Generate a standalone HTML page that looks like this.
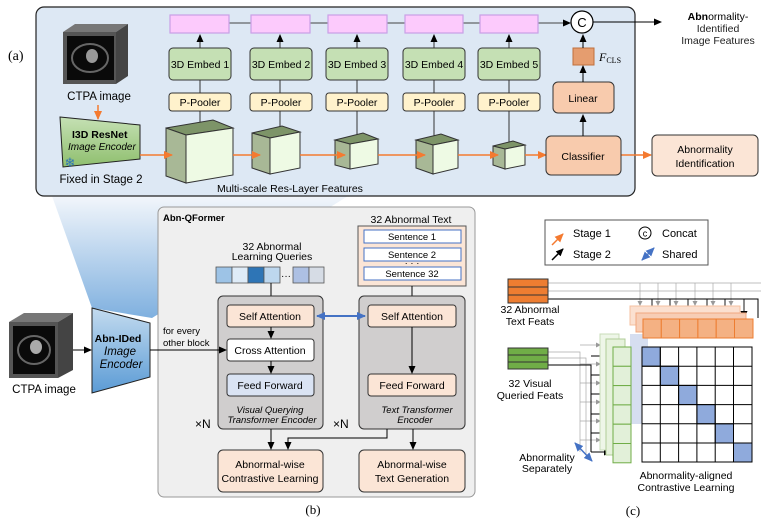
<!DOCTYPE html>
<html><head><meta charset="utf-8"><style>
html,body{margin:0;padding:0;background:#fff}
svg{display:block;font-family:"Liberation Sans","DejaVu Sans",sans-serif}
</style></head><body>
<svg width="761" height="526" viewBox="0 0 761 526" xmlns="http://www.w3.org/2000/svg">
<defs>
<marker id="ak" markerWidth="8" markerHeight="8" refX="7" refY="4" orient="auto" markerUnits="userSpaceOnUse"><path d="M0,0.5 L8,4 L0,7.5z" fill="#000"/></marker>
<marker id="ao" markerWidth="9" markerHeight="9" refX="8" refY="4.5" orient="auto" markerUnits="userSpaceOnUse"><path d="M0,0.5 L9,4.5 L0,8.5z" fill="#f47a30"/></marker>
<marker id="ab" markerWidth="9" markerHeight="9" refX="8" refY="4.5" orient="auto-start-reverse" markerUnits="userSpaceOnUse"><path d="M0,0.5 L9,4.5 L0,8.5z" fill="#4472c4"/></marker>
<marker id="ag" markerWidth="5" markerHeight="5" refX="4" refY="2.5" orient="auto" markerUnits="userSpaceOnUse"><path d="M0,0 L5,2.5 L0,5z" fill="#999"/></marker>
<linearGradient id="fun" x1="0" y1="0" x2="0" y2="1"><stop offset="0" stop-color="#f2f6fb"/><stop offset="1" stop-color="#7fb0df"/></linearGradient>
<linearGradient id="enc" x1="0" y1="0" x2="0" y2="1"><stop offset="0" stop-color="#c3dbef"/><stop offset="1" stop-color="#5b9bd5"/></linearGradient>
<linearGradient id="genc" x1="0" y1="0" x2="0" y2="1"><stop offset="0" stop-color="#c5e0b4"/><stop offset="1" stop-color="#8fbf6e"/></linearGradient>
</defs>

<polygon points="52,196 348,196 152,318 92,308" fill="url(#fun)"/>

<rect x="36" y="7" width="599" height="189" rx="8" fill="#dde8f4" stroke="#222" stroke-width="1.2"/>
<text x="8" y="60" font-family="Liberation Serif,serif" font-size="14">(a)</text>

<polygon points="63,32 75,24 128,24 116,32" fill="#777"/>
<polygon points="116,32 128,24 128,76 116,84" fill="#444"/>
<rect x="63" y="32" width="53" height="52" fill="#555"/>
<rect x="67" y="36" width="47" height="44" fill="#0a0a0a"/>
<ellipse cx="90" cy="58" rx="18" ry="14" fill="none" stroke="#666" stroke-width="2"/>
<ellipse cx="92" cy="56" rx="6" ry="7" fill="#999"/>
<text x="99" y="100" font-size="11.5" text-anchor="middle">CTPA image</text>
<line x1="98" y1="105" x2="98" y2="119" stroke="#f47a30" stroke-width="1.5" marker-end="url(#ao)"/>
<polygon points="60,117 140,125 140,159 63,167" fill="url(#genc)" stroke="#222"/>
<text x="72" y="138" font-size="10.5" font-weight="bold">I3D ResNet</text>
<text x="68" y="150" font-size="10" font-style="italic">Image Encoder</text>
<text x="70" y="167" font-size="13" fill="#2e75b6" text-anchor="middle">❄</text>
<text x="101" y="183" font-size="11.5" text-anchor="middle">Fixed in Stage 2</text>

<line x1="229" y1="23" x2="570" y2="23" stroke="#444" stroke-width="1" marker-end="url(#ak)"/>
<g fill="#fccafc" stroke="#c9a0e6" stroke-width="1.2">
<rect x="170" y="15" width="59" height="18"/><rect x="251" y="15" width="59" height="18"/><rect x="328" y="15" width="59" height="18"/><rect x="405" y="15" width="58" height="18"/><rect x="480" y="15" width="58" height="18"/>
</g>
<circle cx="582" cy="22" r="11" fill="#fff" stroke="#000" stroke-width="1.2"/>
<text x="582" y="27" font-size="13" text-anchor="middle">C</text>
<line x1="593" y1="22" x2="661" y2="22" stroke="#000" marker-end="url(#ak)"/>
<text x="718" y="20" font-size="10.5" text-anchor="middle"><tspan font-weight="bold">Abn</tspan>ormality-</text>
<text x="718" y="32" font-size="10.5" text-anchor="middle" fill="#222">Identified</text>
<text x="718" y="44" font-size="10.5" text-anchor="middle" fill="#222">Image Features</text>

<g stroke="#333" stroke-width="1">
<line x1="200" y1="122" x2="200" y2="35" marker-end="url(#ak)"/>
<line x1="280" y1="128" x2="280" y2="35" marker-end="url(#ak)"/>
<line x1="357" y1="135" x2="357" y2="35" marker-end="url(#ak)"/>
<line x1="434" y1="136" x2="434" y2="35" marker-end="url(#ak)"/>
<line x1="509" y1="142" x2="509" y2="35" marker-end="url(#ak)"/>
</g>
<g fill="#c5e0b4" stroke="#333" stroke-width="1">
<rect x="169" y="48" width="62" height="32" rx="4"/><rect x="250" y="48" width="62" height="32" rx="4"/><rect x="326" y="48" width="62" height="32" rx="4"/><rect x="403" y="48" width="62" height="32" rx="4"/><rect x="478" y="48" width="62" height="32" rx="4"/>
</g>
<g fill="#fff2cc" stroke="#333" stroke-width="1">
<rect x="169" y="93" width="62" height="18" rx="3"/><rect x="250" y="93" width="62" height="18" rx="3"/><rect x="326" y="93" width="62" height="18" rx="3"/><rect x="403" y="93" width="62" height="18" rx="3"/><rect x="478" y="93" width="62" height="18" rx="3"/>
</g>
<g font-size="10.5" text-anchor="middle">
<text x="200" y="68">3D Embed 1</text><text x="281" y="68">3D Embed 2</text><text x="357" y="68">3D Embed 3</text><text x="434" y="68">3D Embed 4</text><text x="509" y="68">3D Embed 5</text>
<text x="200" y="106">P-Pooler</text><text x="281" y="106">P-Pooler</text><text x="357" y="106">P-Pooler</text><text x="434" y="106">P-Pooler</text><text x="509" y="106">P-Pooler</text>
</g>

<g stroke="#333" stroke-width="1">
<polygon points="166,128 213,120 233,128 186,135" fill="#7d9468"/>
<polygon points="166,128 186,135 186,183 166,176" fill="#a8b896"/>
<polygon points="186,135 233,128 233,175 186,183" fill="#eefae4"/>

<polygon points="252,133 282,126 300,132 270,138" fill="#7d9468"/>
<polygon points="252,133 270,138 270,174 252,168" fill="#a8b896"/>
<polygon points="270,138 300,132 300,168 270,174" fill="#eefae4"/>

<polygon points="335,140 363,133 378,139 350,144" fill="#7d9468"/>
<polygon points="335,140 350,144 350,169 335,165" fill="#a8b896"/>
<polygon points="350,144 378,139 378,164 350,169" fill="#eefae4"/>

<polygon points="416,140 441,134 458,140 433,145" fill="#7d9468"/>
<polygon points="416,140 433,145 433,174 416,168" fill="#a8b896"/>
<polygon points="433,145 458,140 458,168 433,174" fill="#eefae4"/>

<polygon points="493,146 513,141 525,145 505,149" fill="#7d9468"/>
<polygon points="493,146 505,149 505,169 493,165" fill="#a8b896"/>
<polygon points="505,149 525,145 525,165 505,169" fill="#eefae4"/>
</g>
<g stroke="#f47a30" stroke-width="1.5">
<line x1="140" y1="155" x2="172" y2="155" marker-end="url(#ao)"/>
<line x1="233" y1="155" x2="260" y2="155" marker-end="url(#ao)"/>
<line x1="300" y1="155" x2="345" y2="155" marker-end="url(#ao)"/>
<line x1="378" y1="155" x2="425" y2="155" marker-end="url(#ao)"/>
<line x1="458" y1="155" x2="498" y2="155" marker-end="url(#ao)"/>
<line x1="525" y1="155" x2="546" y2="155" marker-end="url(#ao)"/>
<line x1="621" y1="155" x2="651" y2="155" marker-end="url(#ao)"/>
</g>
<text x="290" y="192" font-size="10.5" text-anchor="middle">Multi-scale Res-Layer Features</text>

<rect x="546" y="136" width="75" height="39" rx="5" fill="#f8cbad" stroke="#333"/>
<text x="583" y="160" font-size="10.5" text-anchor="middle">Classifier</text>
<line x1="583" y1="136" x2="583" y2="115" stroke="#000" marker-end="url(#ak)"/>
<rect x="553" y="82" width="61" height="31" rx="5" fill="#f8cbad" stroke="#333"/>
<text x="583" y="102" font-size="10.5" text-anchor="middle">Linear</text>
<line x1="583" y1="82" x2="583" y2="66" stroke="#000" marker-end="url(#ak)"/>
<rect x="573" y="48" width="21" height="17" fill="#e59d6f" stroke="#c0703c"/>
<text x="599" y="61" font-family="Liberation Serif,serif" font-size="12" font-style="italic">F<tspan font-size="8" font-style="normal" dy="2">CLS</tspan></text>
<line x1="583" y1="48" x2="583" y2="35" stroke="#000" marker-end="url(#ak)"/>
<rect x="652" y="135" width="106" height="41" rx="5" fill="#fbe5d6" stroke="#333"/>
<text x="705" y="153" font-size="10.5" text-anchor="middle">Abnormality</text>
<text x="705" y="167" font-size="10.5" text-anchor="middle">Identification</text>

<polygon points="9,322 24,313 73,313 58,322" fill="#777"/>
<polygon points="58,322 73,313 73,370 58,378" fill="#444"/>
<rect x="9" y="322" width="49" height="56" fill="#555"/>
<rect x="13" y="326" width="42" height="48" fill="#0a0a0a"/>
<ellipse cx="34" cy="350" rx="16" ry="14" fill="none" stroke="#666" stroke-width="2"/>
<ellipse cx="36" cy="347" rx="6" ry="7" fill="#aaa"/>
<text x="44" y="393" font-size="11.5" text-anchor="middle">CTPA image</text>
<line x1="73" y1="350" x2="91" y2="350" stroke="#000" marker-end="url(#ak)"/>
<polygon points="92,308 150,323 150,377 92,393" fill="url(#enc)" stroke="#222"/>
<text x="118" y="342" font-size="10.5" text-anchor="middle" font-weight="bold">Abn-IDed</text>
<text x="120" y="355" font-size="11.5" text-anchor="middle" font-style="italic">Image</text>
<text x="121" y="368" font-size="11.5" text-anchor="middle" font-style="italic">Encoder</text>

<rect x="158" y="207" width="317" height="290" rx="6" fill="#efefef" stroke="#999"/>
<line x1="150" y1="350" x2="226" y2="350" stroke="#000" marker-end="url(#ak)"/>
<text x="163" y="334" font-size="9.5">for every</text>
<text x="163" y="346" font-size="9.5">other block</text>
<text x="163" y="221" font-size="9.5" font-weight="bold">Abn-QFormer</text>
<text x="411" y="223" font-size="10.5" text-anchor="middle">32 Abnormal Text</text>
<rect x="358" y="226" width="108" height="60" fill="#fbe5d6" stroke="#555"/>
<g fill="#fff" stroke="#4472c4" stroke-width="1"><rect x="364" y="230" width="97" height="13"/><rect x="364" y="248" width="97" height="13"/><rect x="364" y="267" width="97" height="13"/></g>
<g font-size="9.5" text-anchor="middle"><text x="412" y="240">Sentence 1</text><text x="412" y="258">Sentence 2</text><text x="412" y="277">Sentence 32</text><text x="412" y="266">· · ·</text></g>
<text x="272" y="250" font-size="10.5" text-anchor="middle">32 Abnormal</text>
<text x="272" y="260" font-size="10.5" text-anchor="middle">Learning Queries</text>
<g stroke="#555" stroke-width="0.8">
<rect x="216" y="267" width="16" height="16" fill="#9dc3e6"/><rect x="232" y="267" width="16" height="16" fill="#deebf7"/><rect x="248" y="267" width="16" height="16" fill="#2e75b6"/><rect x="264" y="267" width="16" height="16" fill="#bdd7ee"/><rect x="293" y="267" width="16" height="16" fill="#adc0e3"/><rect x="309" y="267" width="15" height="16" fill="#d6dce5"/>
</g>
<text x="286" y="279" font-size="10" text-anchor="middle">···</text>
<line x1="271" y1="283" x2="271" y2="304" stroke="#000" marker-end="url(#ak)"/>
<line x1="412" y1="286" x2="412" y2="304" stroke="#000" marker-end="url(#ak)"/>
<rect x="218" y="296" width="105" height="133" rx="5" fill="#d0cece" stroke="#333"/>
<rect x="359" y="296" width="106" height="133" rx="5" fill="#d0cece" stroke="#333"/>
<line x1="150" y1="350" x2="226" y2="350" stroke="#000" marker-end="url(#ak)"/>
<rect x="227" y="305" width="87" height="22" rx="3" fill="#fbe5d6" stroke="#333"/>
<rect x="227" y="339" width="87" height="22" rx="3" fill="#fff" stroke="#333"/>
<rect x="227" y="374" width="87" height="22" rx="3" fill="#dae3f3" stroke="#333"/>
<rect x="368" y="305" width="88" height="22" rx="3" fill="#fbe5d6" stroke="#333"/>
<rect x="368" y="374" width="88" height="22" rx="3" fill="#fbe5d6" stroke="#333"/>
<line x1="271" y1="327" x2="271" y2="338" stroke="#000" marker-end="url(#ak)"/>
<line x1="271" y1="361" x2="271" y2="373" stroke="#000" marker-end="url(#ak)"/>
<line x1="412" y1="327" x2="412" y2="373" stroke="#000" marker-end="url(#ak)"/>
<line x1="317" y1="316" x2="365" y2="316" stroke="#4472c4" stroke-width="2" marker-start="url(#ab)" marker-end="url(#ab)"/>
<g font-size="10.5" text-anchor="middle">
<text x="270" y="320">Self Attention</text><text x="270" y="354">Cross Attention</text><text x="270" y="389">Feed Forward</text>
<text x="412" y="320">Self Attention</text><text x="412" y="389">Feed Forward</text>
</g>
<g font-size="9.5" text-anchor="middle" font-style="italic">
<text x="270" y="413">Visual Querying</text><text x="272" y="423">Transformer Encoder</text>
<text x="417" y="413">Text Transformer</text><text x="415" y="423">Encoder</text>
</g>
<text x="195" y="428" font-size="12">×N</text>
<text x="333" y="428" font-size="12">×N</text>
<line x1="271" y1="429" x2="271" y2="449" stroke="#000" marker-end="url(#ak)"/>
<polyline points="387,429 387,438 288,438 288,449" fill="none" stroke="#000" marker-end="url(#ak)"/>
<line x1="413" y1="429" x2="413" y2="449" stroke="#000" marker-end="url(#ak)"/>
<rect x="218" y="450" width="105" height="42" rx="5" fill="#fbe5d6" stroke="#333"/>
<rect x="359" y="450" width="106" height="42" rx="5" fill="#fbe5d6" stroke="#333"/>
<g font-size="10.5" text-anchor="middle">
<text x="270" y="468">Abnormal-wise</text><text x="270" y="482">Contrastive Learning</text>
<text x="412" y="468">Abnormal-wise</text><text x="412" y="482">Text Generation</text>
</g>
<text x="313" y="514" font-family="Liberation Serif,serif" font-size="13" text-anchor="middle">(b)</text>

<rect x="545" y="220" width="163" height="45" fill="#fff" stroke="#555"/>
<line x1="552" y1="245" x2="563" y2="234" stroke="#f47a30" stroke-width="1.5" marker-end="url(#ao)"/>
<line x1="552" y1="260" x2="563" y2="249" stroke="#000" stroke-width="1.5" marker-end="url(#ak)"/>
<text x="573" y="237" font-size="11">Stage 1</text>
<text x="573" y="258" font-size="11">Stage 2</text>
<circle cx="645" cy="233" r="6" fill="#fff" stroke="#000"/>
<text x="645" y="236.5" font-size="9" text-anchor="middle">c</text>
<text x="662" y="237" font-size="11">Concat</text>
<line x1="642" y1="260" x2="654" y2="248" stroke="#4472c4" stroke-width="1.5" marker-start="url(#ab)" marker-end="url(#ab)"/>
<text x="662" y="258" font-size="11">Shared</text>

<!-- panel c -->
<g stroke="#aaa" stroke-width="0.7" fill="none">
<polyline points="548,283 775,283 775,300"/><polyline points="548,291 765,291 765,306"/>
<line x1="640" y1="283" x2="640" y2="305" marker-end="url(#ag)"/><line x1="658" y1="283" x2="658" y2="305" marker-end="url(#ag)"/><line x1="676" y1="283" x2="676" y2="305" marker-end="url(#ag)"/><line x1="695" y1="283" x2="695" y2="305" marker-end="url(#ag)"/><line x1="713" y1="283" x2="713" y2="305" marker-end="url(#ag)"/><line x1="731" y1="283" x2="731" y2="305" marker-end="url(#ag)"/>
<polyline points="548,352 580,352 580,452"/><polyline points="548,358 586,358 586,455"/>
<line x1="580" y1="345" x2="600" y2="345" marker-end="url(#ag)"/><line x1="580" y1="364" x2="600" y2="364" marker-end="url(#ag)"/><line x1="580" y1="383" x2="600" y2="383" marker-end="url(#ag)"/><line x1="580" y1="402" x2="600" y2="402" marker-end="url(#ag)"/><line x1="580" y1="421" x2="600" y2="421" marker-end="url(#ag)"/><line x1="580" y1="440" x2="600" y2="440" marker-end="url(#ag)"/>
</g>
<polyline points="548,299 758,299 758,318" fill="none" stroke="#000"/>
<g stroke="#000" stroke-width="0.9">
<line x1="652" y1="299" x2="652" y2="318" marker-end="url(#ak)"/><line x1="670" y1="299" x2="670" y2="318" marker-end="url(#ak)"/><line x1="688" y1="299" x2="688" y2="318" marker-end="url(#ak)"/><line x1="707" y1="299" x2="707" y2="318" marker-end="url(#ak)"/><line x1="725" y1="299" x2="725" y2="318" marker-end="url(#ak)"/><line x1="744" y1="299" x2="744" y2="318" marker-end="url(#ak)"/>
</g>
<polyline points="548,365 591,365 591,452" fill="none" stroke="#000"/>
<g stroke="#000" stroke-width="0.9">
<line x1="591" y1="356" x2="611" y2="356" marker-end="url(#ak)"/><line x1="591" y1="375" x2="611" y2="375" marker-end="url(#ak)"/><line x1="591" y1="394" x2="611" y2="394" marker-end="url(#ak)"/><line x1="591" y1="414" x2="611" y2="414" marker-end="url(#ak)"/><line x1="591" y1="433" x2="611" y2="433" marker-end="url(#ak)"/><line x1="591" y1="452" x2="611" y2="452" marker-end="url(#ak)"/>
</g>
<g fill="#ed7d31" stroke="#333" stroke-width="1"><rect x="508" y="279" width="40" height="8"/><rect x="508" y="287" width="40" height="8"/><rect x="508" y="295" width="40" height="8"/></g>
<text x="530" y="313" font-size="10.5" text-anchor="middle">32 Abnormal</text>
<text x="530" y="325" font-size="10.5" text-anchor="middle">Text Feats</text>
<g fill="#70ad47" stroke="#333" stroke-width="1"><rect x="508" y="348" width="40" height="7"/><rect x="508" y="355" width="40" height="7"/><rect x="508" y="362" width="40" height="7"/></g>
<text x="530" y="387" font-size="10.5" text-anchor="middle">32 Visual</text>
<text x="530" y="399" font-size="10.5" text-anchor="middle">Queried Feats</text>
<rect x="630" y="306" width="110" height="19" fill="#fbe0d0" stroke="#f4c0a0"/>
<rect x="636" y="313" width="110" height="19" fill="#f7cdb5" stroke="#f0a880"/>
<rect x="600" y="334" width="19" height="116" fill="#eef6e8" stroke="#c8dcb8"/>
<rect x="606" y="339" width="19" height="116" fill="#e6f2dc" stroke="#b0cc98"/>
<rect x="630" y="334" width="18" height="90" fill="#c5d0ea" opacity="0.7"/>
<g stroke="#ed7d31" stroke-width="1" fill="#f4b183">
<rect x="643" y="319" width="18.3" height="19"/><rect x="661.3" y="319" width="18.3" height="19"/><rect x="679.6" y="319" width="18.3" height="19"/><rect x="697.9" y="319" width="18.3" height="19"/><rect x="716.2" y="319" width="18.3" height="19"/><rect x="734.5" y="319" width="18.5" height="19"/>
</g>
<g stroke="#70ad47" stroke-width="1" fill="#e2f0d9">
<rect x="613" y="347" width="18" height="19.3"/><rect x="613" y="366.3" width="18" height="19.3"/><rect x="613" y="385.6" width="18" height="19.3"/><rect x="613" y="404.9" width="18" height="19.3"/><rect x="613" y="424.2" width="18" height="19.3"/><rect x="613" y="443.5" width="18" height="19.3"/>
</g>
<rect x="642" y="347" width="110" height="115" fill="#fff" stroke="#000"/>
<g fill="#8faadc" stroke="#000" stroke-width="1">
<rect x="642" y="347" width="18.3" height="19.2"/><rect x="660.3" y="366.2" width="18.3" height="19.2"/><rect x="678.6" y="385.4" width="18.3" height="19.2"/><rect x="696.9" y="404.6" width="18.3" height="19.2"/><rect x="715.2" y="423.8" width="18.3" height="19.2"/><rect x="733.5" y="443" width="18.5" height="19"/>
</g>
<g stroke="#000" stroke-width="1">
<line x1="660.3" y1="347" x2="660.3" y2="462"/><line x1="678.6" y1="347" x2="678.6" y2="462"/><line x1="696.9" y1="347" x2="696.9" y2="462"/><line x1="715.2" y1="347" x2="715.2" y2="462"/><line x1="733.5" y1="347" x2="733.5" y2="462"/>
<line x1="642" y1="366.2" x2="752" y2="366.2"/><line x1="642" y1="385.4" x2="752" y2="385.4"/><line x1="642" y1="404.6" x2="752" y2="404.6"/><line x1="642" y1="423.8" x2="752" y2="423.8"/><line x1="642" y1="443" x2="752" y2="443"/>
</g>
<line x1="575" y1="443" x2="592" y2="461" stroke="#4472c4" stroke-width="1.5" marker-start="url(#ab)" marker-end="url(#ab)"/>
<text x="547" y="461" font-size="10.5" text-anchor="middle">Abnormality</text>
<text x="547" y="472" font-size="10.5" text-anchor="middle">Separately</text>
<text x="686" y="479" font-size="10.5" text-anchor="middle">Abnormality-aligned</text>
<text x="686" y="491" font-size="10.5" text-anchor="middle">Contrastive Learning</text>
<text x="633" y="515" font-family="Liberation Serif,serif" font-size="13" text-anchor="middle">(c)</text>
</svg>
</body></html>
